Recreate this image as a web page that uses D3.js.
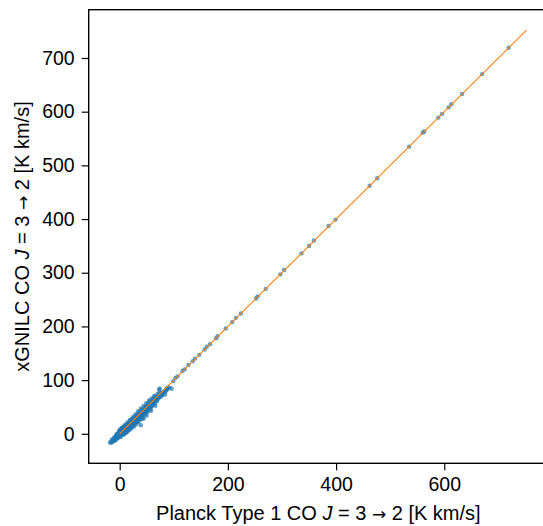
<!DOCTYPE html>
<html>
<head>
<meta charset="utf-8">
<script src="https://cdn.jsdelivr.net/npm/d3@7"></script>
<style>
  html, body { margin: 0; padding: 0; background: #fff; }
  svg { display: block; }
  text { font-family: "Liberation Sans", Arial, Helvetica, sans-serif; fill: #000; }
</style>
</head>
<body>
<svg id="chart" width="543" height="526"></svg>
<script>
// Pixel comparison of Planck Type 1 CO(3-2) vs xGNILC CO(3-2) intensities [K km/s]

// Dense low-intensity population
const clusterX = [
  -18,-16,-15,-14,-13,-12,-11,-10,-9,-9,-8,-7,-7,-6,-5,-5,-4,-4,-3,-3,
  -2,-2,-1,-1,0,0,0,1,1,1,2,2,2,3,3,3,4,4,4,5,5,5,6,6,6,7,7,7,8,8,8,9,9,9,10,10,10,10,
  11,11,11,12,12,12,13,13,13,14,14,14,15,15,15,16,16,16,17,17,17,18,18,18,19,19,19,20,20,20,21,21,21,22,22,22,23,23,23,24,24,24,25,25,25,
  26,26,26,27,27,27,28,28,28,29,29,30,30,30,31,31,31,32,32,32,33,33,34,34,34,35,35,35,36,36,36,37,37,38,38,38,39,39,40,40,40,41,41,42,42,43,43,44,44,44,45,45,
  46,46,47,47,48,48,48,49,49,50,50,51,51,52,52,53,53,54,54,55,55,56,57,57,58,58,59,60,60,61,62,62,63,64,65,66,67,68,69,70,
  71,72,73,74,75,76,78,80,82,84,85,87,88,90,92,96,
  39,50,58,66,44,74,99,103,
  -6,-1,4,9,14,19,24,29,34,39,44,49,54,59,64,
  2,7,12,17,22,27,32,37,42,47,52,57,
  41,45,49,53,56,60,63,67,70,73,77,81,86,65,69,76,79,83
];
const clusterY = [
  -16,-17,-12,-15,-10,-14,-8,-12,-6,-13,-9,-4,-11,-7,-2,-9,-6,0,-3,-8,
  1,-5,-2,4,0,-4,6,2,-3,8,0,5,-2,3,9,-1,1,6,11,2,-2,8,4,10,0,6,2,13,3,8,-1,5,11,1,7,3,14,9,
  5,10,16,8,2,13,9,17,6,11,4,15,12,8,19,14,9,6,13,20,10,15,11,22,16,12,8,18,14,24,17,12,20,19,15,26,20,16,11,22,18,27,21,16,24,
  23,19,29,24,20,14,26,22,31,25,21,28,23,33,27,22,18,30,26,35,29,24,31,27,37,32,28,22,34,29,39,33,28,35,31,41,36,30,38,33,27,37,42,39,34,40,36,42,37,31,41,46,
  43,38,44,39,46,41,50,45,40,47,43,48,44,50,45,49,55,51,46,53,48,54,53,49,56,51,57,56,52,59,58,54,61,59,62,61,64,63,66,65,
  68,66,83,70,71,73,74,75,79,73,81,85,83,86,86,84,
  16,34,43,52,28,84,98,104,
  -1,5,11,16,21,26,31,36,42,47,52,57,62,66,71,
  -6,-1,3,8,13,18,23,27,32,37,41,46,
  44,48,52,56,60,63,67,70,74,77,76,78,80,57,61,69,72,78
];

// Sparse bright sightlines along the one-to-one relation
const brightX = [107,116,120,127,135,139,147,157,161,167,178,181,196,208,215,224,252,255,270,297,304,336,350,359,386,399,462,476,535,560,563,589,596,608,613,633,670,719];
const brightY = [107,117,120,128,135,140,147,157,162,167,178,182,196,208,216,224,252,256,270,297,305,336,350,360,387,399,462,476,535,561,563,589,596,608,614,633,670,719];

// One-to-one reference line
const lineX = [0, 752];

// Axis ticks
const xTicks = [0, 200, 400, 600];
const yTicks = [0, 100, 200, 300, 400, 500, 600, 700];

const margin = { left: 88.7, top: 9.7, right: 548, bottom: 463.3 };
const svg = d3.select("#chart");

const x = d3.scaleLinear().domain([-57.3, 791.7]).range([margin.left, margin.right]);
const y = d3.scaleLinear().domain([-55, 790]).range([margin.bottom, margin.top]);

const fontSize = 20;

// Scatter points
const points = clusterX.map((v, i) => ({ x: v, y: clusterY[i] }))
  .concat(brightX.map((v, i) => ({ x: v, y: brightY[i] })));

svg.append("g")
  .selectAll("circle")
  .data(points)
  .join("circle")
  .attr("cx", d => x(d.x))
  .attr("cy", d => y(d.y))
  .attr("r", 2.2)
  .attr("fill", "#1f77b4")
  .attr("fill-opacity", 0.7);

// y = x line
svg.append("path")
  .datum(lineX)
  .attr("d", d3.line().x(d => x(d)).y(d => y(d)))
  .attr("stroke", "#ff7f0e")
  .attr("stroke-width", 1.1)
  .attr("fill", "none");

// Axes
const xAxis = svg.append("g")
  .attr("transform", `translate(0,${margin.bottom})`)
  .call(d3.axisBottom(x).tickValues(xTicks).tickSize(7).tickPadding(7).tickFormat(d3.format("d")));
const yAxis = svg.append("g")
  .attr("transform", `translate(${margin.left},0)`)
  .call(d3.axisLeft(y).tickValues(yTicks).tickSize(7).tickPadding(7).tickFormat(d3.format("d")));

[xAxis, yAxis].forEach(g => {
  g.select(".domain").remove();
  g.selectAll(".tick line").attr("stroke", "#000").attr("stroke-width", 1.2);
  g.selectAll(".tick text")
    .attr("font-size", 19.5)
    .attr("font-family", "\"Liberation Sans\", Arial, Helvetica, sans-serif")
    .attr("fill", "#000");
});

// Frame
svg.append("rect")
  .attr("x", margin.left)
  .attr("y", margin.top)
  .attr("width", margin.right - margin.left)
  .attr("height", margin.bottom - margin.top)
  .attr("fill", "none")
  .attr("stroke", "#000")
  .attr("stroke-width", 1.4);

// Axis labels
function label(sel, prefix) {
  sel.append("tspan").text(prefix);
  sel.append("tspan").attr("font-style", "italic").text("J");
  sel.append("tspan").text(" = 3 ");
  sel.append("tspan").attr("font-family", "\"DejaVu Sans\", sans-serif").attr("font-size", fontSize * 0.85).text("\u2192");
  sel.append("tspan").text(" 2 [K km/s]");
}

const xl = svg.append("text")
  .attr("x", (margin.left + margin.right) / 2)
  .attr("y", 519.5)
  .attr("text-anchor", "middle")
  .attr("font-size", fontSize);
label(xl, "Planck Type 1 CO ");

const yl = svg.append("text")
  .attr("transform", `translate(28.5,${(margin.top + margin.bottom) / 2}) rotate(-90)`)
  .attr("text-anchor", "middle")
  .attr("font-size", fontSize);
label(yl, "xGNILC CO ");
</script>
</body>
</html>
